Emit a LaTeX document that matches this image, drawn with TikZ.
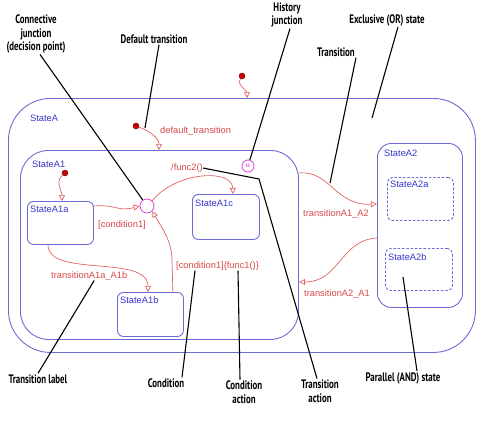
\documentclass[tikz,border=0pt]{standalone}
\usepackage{fontspec}
\setmainfont{Liberation Sans}
\newfontfamily\notefont[FakeStretch=0.72]{PT Sans}
\usepackage{tikz}
\usetikzlibrary{arrows.meta}
\definecolor{st-line}{HTML}{6B6BD6}
\definecolor{st-text}{HTML}{3535CC}
\definecolor{tr-line}{HTML}{E06464}
\definecolor{tr-text}{HTML}{D84848}
\definecolor{dot-red}{HTML}{CC0000}
\definecolor{dot-dark}{HTML}{660000}
\definecolor{junc}{HTML}{DD44DD}
\tikzset{
  state/.style={draw=st-line, line width=0.9pt, anchor=north west, inner sep=0pt, rounded corners=6pt},
  substate/.style={state, dashed, dash pattern=on 2.5pt off 1.8pt},
  statename/.style={text=st-text, anchor=west, inner sep=0pt, font=\fontsize{9.3}{10}\selectfont},
  trans/.style={draw=tr-line, line width=0.7pt, -{Triangle[open,length=6pt,width=6pt]}},
  translabel/.style={text=tr-text, anchor=west, inner sep=0pt, font=\fontsize{9.3}{10}\selectfont},
  dflt/.style={circle, fill=dot-red, draw=dot-dark, line width=0.4pt, inner sep=0pt, minimum size=6pt},
  junction/.style={circle, draw=junc, fill=white, line width=0.8pt, inner sep=0pt},
  note/.style={font=\notefont\bfseries\fontsize{12.3}{13.5}\selectfont, align=center, inner sep=1pt},
  pointer/.style={black, line width=1.1pt}
}

\begin{document}
\begin{tikzpicture}[x=1pt, y=-1pt]
    \useasboundingbox (0,0) rectangle (497,428);

    % States
    \node[state, rounded corners=42pt, minimum width=467pt, minimum height=254pt] (A) at (8,98) {};
    \node[state, rounded corners=28pt, minimum width=278pt, minimum height=189pt] (A1) at (20,150) {};
    \node[state, rounded corners=14pt, minimum width=85pt, minimum height=164pt] (A2) at (377,143) {};
    \node[substate, rounded corners=5pt, minimum width=66pt, minimum height=43pt] (A2a) at (387,177) {};
    \node[substate, rounded corners=5pt, minimum width=67pt, minimum height=42pt] (A2b) at (385,248) {};
    \node[state, minimum width=66pt, minimum height=43pt] (A1a) at (27,201) {};
    \node[state, minimum width=66pt, minimum height=44pt] (A1b) at (117,292) {};
    \node[state, minimum width=67pt, minimum height=45pt] (A1c) at (192,194) {};

    % State names
    \node[statename] at (30,118) {StateA};
    \node[statename] at (32,164) {StateA1};
    \node[statename] at (30,209) {StateA1a};
    \node[statename] at (120,300) {StateA1b};
    \node[statename] at (195,203) {StateA1c};
    \node[statename] at (384,153) {StateA2};
    \node[statename] at (390,184) {StateA2a};
    \node[statename] at (388,257) {StateA2b};

    % Junctions and default transitions
    \node[junction, minimum size=14pt] (J) at (147,206) {};
    \node[junction, minimum size=12pt, text=junc, font=\fontsize{5}{5}\selectfont\bfseries] (H) at (248,166) {H};
    \node[dflt] (d0) at (242,76) {};
    \node[dflt] (d1) at (136,126) {};
    \node[dflt] (d2) at (65,173) {};

    \draw[trans] (d0) to[out=-120, in=90] ([xshift=239pt]A.north west);
    \draw[trans] (d1) to[out=-20, in=90] ([xshift=139pt]A1.north west);
    \draw[trans] (d2) to[out=-140, in=90] ([xshift=35pt]A1a.north west);

    % Transitions
    \draw[trans] ([yshift=-5pt]A1a.north east) .. controls (115,204) and (118,212) .. (J.west);
    \draw[trans] (J.north east) .. controls (175,172) and (232,168) .. ([xshift=41pt]A1c.north west);
    \draw[trans] ([xshift=-11pt]A1b.north east) -- (172,262) to[out=90, in=-60] (J.south east);
    \draw[trans] ([xshift=21pt]A1a.south west) .. controls (48,278) and (148,254) .. ([xshift=31pt]A1b.north west);
    \draw[trans] ([yshift=-23pt]A1.north east) .. controls (330,170) and (335,206) .. ([yshift=-61pt]A2.north west);
    \draw[trans] ([yshift=-95pt]A2.north west) .. controls (340,240) and (340,282) .. ([yshift=-132pt]A1.north east);

    % Transition labels
    \node[translabel] at (160,131) {default\_transition};
    \node[translabel] (lFunc) at (171,168) {/func2()};
    \node[translabel] at (98,225) {[condition1]};
    \node[translabel] (lCond) at (176,266) {[condition1]\{func1()\}};
    \node[translabel] (lA1aA1b) at (51,276) {transitionA1a\_A1b};
    \node[translabel] at (303,214) {transitionA1\_A2};
    \node[translabel] at (304,294) {transitionA2\_A1};

    % Notes
    \node[note] (nJunc) at (36,34) {Connective\\junction\\(decision point)};
    \node[note] (nDefault) at (154,39) {Default transition};
    \node[note] (nHist) at (287,15) {History\\junction};
    \node[note] (nOR) at (387,20) {Exclusive (OR) state};
    \node[note] (nTrans) at (336,52) {Transition};
    \node[note] (nLabel) at (38,379) {Transition label};
    \node[note] (nCond) at (166,383) {Condition};
    \node[note] (nCact) at (244,392) {Condition\\action};
    \node[note] (nTact) at (320,391) {Transition\\action};
    \node[note] (nAND) at (403,378) {Parallel (AND) state};

    \coordinate (pDefault) at (145,128);
    \coordinate (pOR) at (372,118);
    \coordinate (pTrans) at (330,183);
    \coordinate (pBend) at (259,179);
    \coordinate (pAND) at (403,277);

    % Pointers
    \draw[pointer] ([xshift=4pt]nJunc.south) -- (J);
    \draw[pointer] ([xshift=5pt]nDefault.south) -- (pDefault);
    \draw[pointer] ([xshift=3pt]nHist.south) -- (H);
    \draw[pointer] ([xshift=11pt]nOR.south) -- (pOR);
    \draw[pointer] (nTrans.south east) -- (pTrans);
    \draw[pointer] (nLabel.north) -- ([xshift=5pt]lA1aA1b.south);
    \draw[pointer] ([xshift=16pt]nCond.north) -- ([xshift=19pt]lCond.south west);
    \draw[pointer] ([xshift=-4pt]nCact.north) -- ([xshift=62pt]lCond.south west);
    \draw[pointer] (lFunc.east) -- (pBend) -- ([xshift=-3pt]nTact.north);
    \draw[pointer] ([xshift=14pt]nAND.north) -- (pAND);

\end{tikzpicture}
\end{document}
